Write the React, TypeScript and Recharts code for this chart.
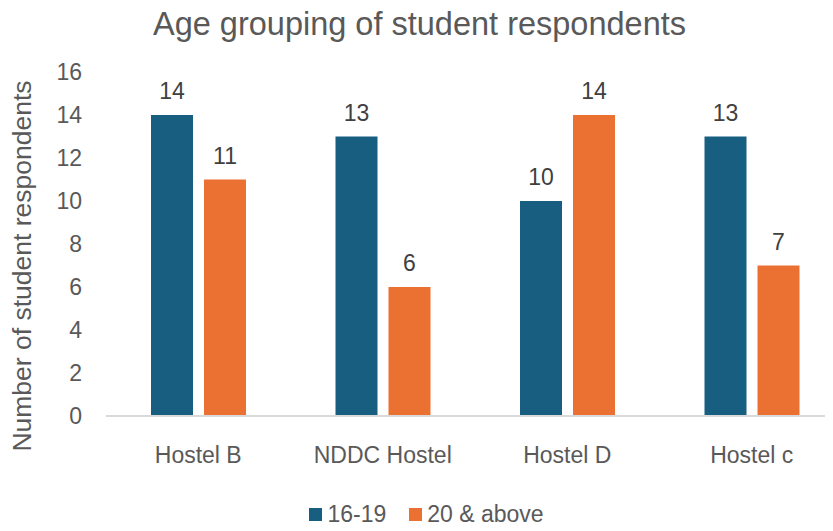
import React from "react";
import { Bar, BarChart, LabelList, Legend, XAxis, YAxis } from "recharts";

const categories = ["Hostel B", "NDDC Hostel", "Hostel D", "Hostel c"];
const age16to19 = [14, 13, 10, 13];
const age20above = [11, 6, 14, 7];
const yTicks = [0, 2, 4, 6, 8, 10, 12, 14, 16];

const seriesNames = ["16-19", "20 & above"];
const colors = ["#175E80", "#EB7133"];

const data = categories.map((name, i) => ({
  name,
  a: age16to19[i],
  b: age20above[i],
}));

const font = "'Liberation Sans', Arial, sans-serif";
const grey = "#595959";

const LegendContent = () => (
  <div
    style={{
      display: "flex",
      justifyContent: "center",
      alignItems: "center",
      paddingLeft: 9,
      marginTop: -2,
      fontFamily: font,
      fontSize: 23,
      color: grey,
      height: 30,
    }}
  >
    {seriesNames.map((s, i) => (
      <div
        key={s}
        style={{ display: "flex", alignItems: "center", marginLeft: i ? 23 : 0 }}
      >
        <span
          style={{
            width: 13,
            height: 13,
            background: colors[i],
            display: "inline-block",
            marginRight: 5,
          }}
        />
        <span>{s}</span>
      </div>
    ))}
  </div>
);

const YLabel = () => (
  <text
    x={22}
    y={266}
    transform="rotate(-90 22 266)"
    textAnchor="middle"
    dominantBaseline="central"
    fill={grey}
    fontFamily={font}
    fontSize={26.5}
  >
    Number of student respondents
  </text>
);

export default function App() {
  return (
    <div
      style={{
        position: "relative",
        width: 833,
        height: 531,
        margin: -8,
        overflow: "hidden",
        background: "#fff",
      }}
    >
      <div
        style={{
          position: "absolute",
          top: 8,
          left: 0,
          width: 839,
          textAlign: "center",
          fontFamily: font,
          fontSize: 32.5,
          lineHeight: "33px",
          color: grey,
          zIndex: 1,
        }}
      >
        Age grouping of student respondents
      </div>
      <BarChart
        width={845}
        height={531}
        data={data}
        margin={{ top: 72, right: 1, left: 0, bottom: 0 }}
        barSize={42}
        barGap={11}
      >
        <XAxis
          dataKey="name"
          height={85}
          tickSize={0}
          tickMargin={31}
          tickLine={false}
          axisLine={{ stroke: "#D9D9D9", strokeWidth: 2 }}
          tick={{ fill: grey, fontSize: 23, fontFamily: font }}
          interval={0}
        />
        <YAxis
          width={106}
          domain={[0, 16]}
          ticks={yTicks}
          interval={0}
          tickSize={0}
          tickMargin={24}
          tickLine={false}
          axisLine={false}
          tick={{ fill: grey, fontSize: 23, fontFamily: font }}
          label={<YLabel />}
        />
        <Legend
          verticalAlign="bottom"
          height={30}
          content={<LegendContent />}
        />
        <Bar dataKey="a" name={seriesNames[0]} fill={colors[0]} isAnimationActive={false}>
          <LabelList
            dataKey="a"
            position="top"
            offset={16}
            fill="#404040"
            fontSize={23}
            fontFamily={font}
          />
        </Bar>
        <Bar dataKey="b" name={seriesNames[1]} fill={colors[1]} isAnimationActive={false}>
          <LabelList
            dataKey="b"
            position="top"
            offset={16}
            fill="#404040"
            fontSize={23}
            fontFamily={font}
          />
        </Bar>
      </BarChart>
    </div>
  );
}
